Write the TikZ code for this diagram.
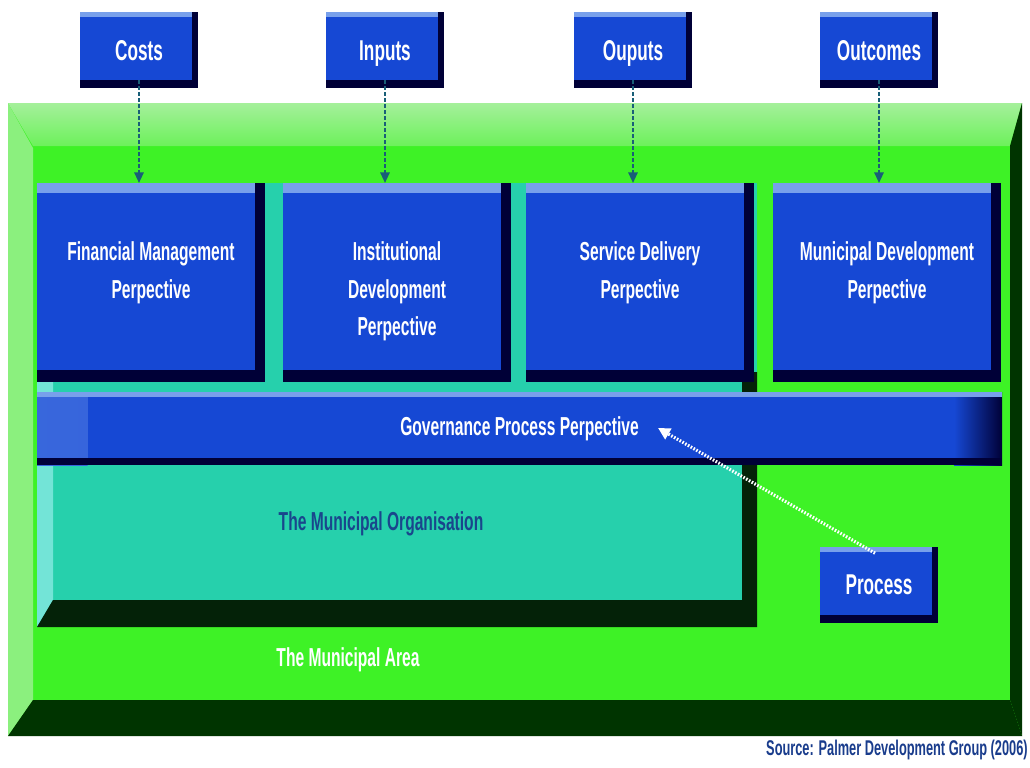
\documentclass[tikz,border=0pt]{standalone}
\usepackage{fontspec}
\setmainfont{Liberation Sans}
\newfontfamily\condsans{Liberation Sans}[FakeStretch=0.6]
\usetikzlibrary{positioning,arrows.meta}

\definecolor{areagreen}{RGB}{62,242,38}
\definecolor{lightgreen}{RGB}{165,240,155}
\definecolor{darkgreen}{RGB}{0,52,0}
\definecolor{orgteal}{RGB}{38,208,172}
\definecolor{lightteal}{RGB}{115,228,215}
\definecolor{darkteal}{RGB}{4,34,8}
\definecolor{pblue}{RGB}{22,72,212}
\definecolor{plight}{RGB}{120,160,235}
\definecolor{pnavy}{RGB}{0,0,55}
\definecolor{arrowcol}{RGB}{25,95,120}
\definecolor{orgtext}{RGB}{25,70,140}
\definecolor{srctext}{RGB}{25,60,140}

\tikzset{
	smallbox/.style={fill=pblue, text=white, font=\condsans\bfseries\fontsize{21.5}{24}\selectfont,
		minimum width=88.5pt, minimum height=57pt, inner sep=0pt, outer sep=0pt,
		text height=15.4pt, text depth=0pt,
		path picture={
			\fill[plight] (path picture bounding box.north west) rectangle ([yshift=-3.75pt]path picture bounding box.north east);
			\fill[pnavy] (path picture bounding box.south west) rectangle ([yshift=6pt]path picture bounding box.south east);
			\fill[pnavy] ([xshift=-4.5pt]path picture bounding box.south east) rectangle (path picture bounding box.north east);
	}},
	perbox/.style={fill=pblue, minimum width=171pt, minimum height=149.25pt, inner sep=0pt, outer sep=0pt,
		path picture={
			\fill[plight] (path picture bounding box.north west) rectangle ([yshift=-7.5pt]path picture bounding box.north east);
			\fill[pnavy] (path picture bounding box.south west) rectangle ([yshift=9pt]path picture bounding box.south east);
			\fill[pnavy] ([xshift=-7.5pt]path picture bounding box.south east) rectangle (path picture bounding box.north east);
	}},
	perlabel/.style={text=white, font=\condsans\bfseries\fontsize{19.5}{28}\selectfont, align=center, inner sep=0pt},
	govbar/.style={fill=pblue, text=white, font=\condsans\bfseries\fontsize{19.5}{22}\selectfont,
		minimum width=723.75pt, minimum height=54.75pt, inner sep=0pt, outer sep=0pt,
		path picture={
			\shade[left color=plight!35!pblue, right color=pblue] (path picture bounding box.south west) rectangle ([xshift=38pt]path picture bounding box.north west);
			\shade[left color=pblue, right color=pnavy] ([xshift=-36pt]path picture bounding box.south east) rectangle (path picture bounding box.north east);
			\fill[plight] (path picture bounding box.north west) rectangle ([yshift=-3.75pt]path picture bounding box.north east);
			\fill[pnavy] (path picture bounding box.south west) rectangle ([yshift=5pt]path picture bounding box.south east);
	}},
	downarrow/.style={arrowcol, line width=1.5pt, dash pattern=on 3pt off 1.5pt, -{Triangle[length=8pt,width=7pt]}},
	procarrow/.style={white, line width=2.4pt, dash pattern=on 1.2pt off 1.2pt, -{Triangle[length=9pt,width=9pt]}},
}

\begin{document}
\begin{tikzpicture}[x=0.75pt,y=0.75pt,yscale=-1]
	\useasboundingbox[fill=white] (0,0) rectangle (1030,767);
	
	%Shape: Rectangle - municipal area
	\fill[areagreen] (8,103) rectangle (1022,736);
	\fill[lightgreen!75!areagreen] (8,103) -- (33,148) -- (33,700) -- (8,736) -- cycle;
	\shade[top color=lightgreen, bottom color=lightgreen!45!areagreen] (8,103) -- (1022,103) -- (1010,146) -- (33,146) -- cycle;
	\fill[darkgreen] (1022,103) -- (1022,736) -- (1010,700) -- (1010,146) -- cycle;
	\fill[darkgreen] (8,736) -- (33,700) -- (1010,700) -- (1022,736) -- cycle;
	
	%Shape: Rectangle - municipal organisation
	\fill[orgteal] (37,183) rectangle (757,627);
	\fill[lightteal] (37,183) -- (53,183) -- (53,600) -- (37,627) -- cycle;
	\fill[darkteal] (37,627) -- (53,600) -- (742,600) -- (742,372) -- (757,372) -- (757,627) -- cycle;
	
	% Perspective boxes
	\node[perbox] (fin) at (151,282.5) {};
	\node[perbox] (inst) at (397,282.5) {};
	\node[perbox] (serv) at (640,282.5) {};
	\node[perbox] (mun) at (887,282.5) {};
	
	% Text Node
	\node[perlabel, below=44pt of fin.north] (finlbl) {Financial Management\\Perpective};
	% Text Node
	\node[perlabel, below=44pt of inst.north] (instlbl) {Institutional\\Development\\Perpective};
	% Text Node
	\node[perlabel, below=44pt of serv.north] (servlbl) {Service Delivery\\Perpective};
	% Text Node
	\node[perlabel, below=44pt of mun.north] (munlbl) {Municipal Development\\Perpective};
	
	% Governance bar
	\node[govbar] (gov) at (519.5,428.5) {Governance Process Perpective};
	\coordinate (govtip) at (658,428);
	
	% Text Node
	\node[perlabel, text=orgtext] (orglbl) at (381,524) {The Municipal Organisation};
	% Text Node
	\node[perlabel] (arealbl) at (348,660) {The Municipal Area};
	
	% Top boxes
	\node[smallbox] (costs) at (139,50) {Costs};
	\node[smallbox] (inp) at (385,50) {Inputs};
	\node[smallbox] (outp) at (633,50) {Ouputs};
	\node[smallbox] (outc) at (879,50) {Outcomes};
	\node[smallbox] (proc) at (879,584.5) {Process};
	
	% Arrows
	\draw[downarrow] ([yshift=-6pt]costs.south) -- (costs.south |- fin.north);
	\draw[downarrow] ([yshift=-6pt]inp.south) -- (inp.south |- inst.north);
	\draw[downarrow] ([yshift=-6pt]outp.south) -- (outp.south |- serv.north);
	\draw[downarrow] ([yshift=-6pt]outc.south) -- (outc.south |- mun.north);
	\draw[procarrow] ([xshift=-3pt,yshift=5pt]proc.north) -- (govtip);
	
	% Text Node
	\node[anchor=east, inner sep=0pt, text=srctext, font=\condsans\bfseries\fontsize{16}{18}\selectfont] (src) at (1028,750) {Source: Palmer Development Group (2006)};
\end{tikzpicture}
\end{document}
